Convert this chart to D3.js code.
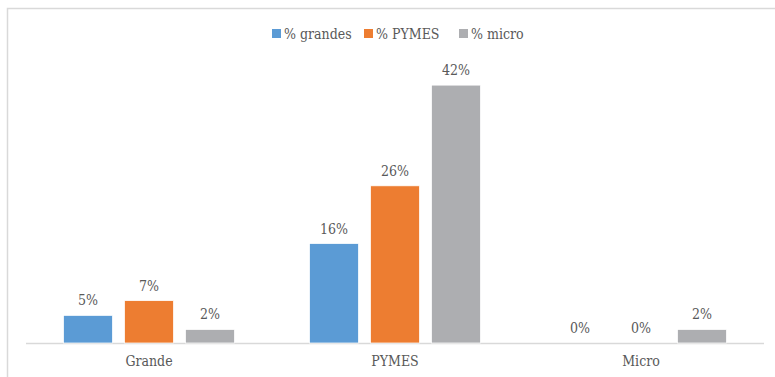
<!DOCTYPE html>
<html>
<head>
<meta charset="utf-8">
<script src="https://cdn.jsdelivr.net/npm/d3@7"></script>
<style>
  body { margin: 0; background: #fff; }
  svg text { fill: #595959; }
</style>
</head>
<body>
<svg id="chart"></svg>
<script>
// categories and series
var categories = ["Grande", "PYMES", "Micro"];
var seriesNames = ["% grandes", "% PYMES", "% micro"];
var grandes = [4.5, 16.2, 0];
var pymes = [6.9, 25.6, 0];
var micro = [2.2, 42, 2.2];
var colors = ["#5B9BD5", "#ED7D31", "#ADAEB1"];

var series = [grandes, pymes, micro];

var w = 775;
var h = 377;
var padding = { top: 67, bottom: 343, left: 26, right: 764 };
var font = "'DejaVu Serif Condensed', 'DejaVu Serif', serif";

var svg = d3.select("#chart")
  .attr("width", w)
  .attr("height", h);

// chart border (runs off the right and bottom of the picture)
svg.append("path")
  .attr("d", "M7.5," + (h + 5) + "V8.5H" + (w + 5))
  .attr("fill", "none")
  .attr("stroke", "#D9D9D9")
  .attr("stroke-width", 1.5);

var x0 = d3.scaleBand()
  .domain(categories)
  .range([padding.left, padding.right]);

var x1 = d3.scaleBand()
  .domain(d3.range(series.length))
  .range([37.5, 208.5])
  .paddingInner(12 / 61);

var yScale = d3.scaleLinear()
  .domain([0, 45])
  .range([padding.bottom, padding.bottom - 45 * 6.14]);

// axis line
svg.append("line")
  .attr("x1", padding.left)
  .attr("x2", padding.right)
  .attr("y1", padding.bottom + 0.5)
  .attr("y2", padding.bottom + 0.5)
  .attr("stroke", "#D9D9D9")
  .attr("stroke-width", 1.5);

var groups = svg.selectAll("g.cat")
  .data(categories)
  .enter()
  .append("g")
  .attr("class", "cat")
  .attr("transform", function(d) {
    return "translate(" + x0(d) + ",0)";
  });

groups.each(function(cat, ci) {
  var g = d3.select(this);
  series.forEach(function(s, si) {
    var v = s[ci];
    if (v > 0) {
      g.append("rect")
        .attr("x", x1(si))
        .attr("y", yScale(v))
        .attr("width", x1.bandwidth())
        .attr("height", yScale(0) - yScale(v))
        .attr("fill", colors[si])
        .attr("stroke", "#fff")
        .attr("stroke-width", 0.75);
    }
    g.append("text")
      .text(Math.round(v) + "%")
      .attr("x", x1(si) + x1.bandwidth() / 2)
      .attr("y", yScale(v) - 10)
      .attr("text-anchor", "middle")
      .attr("font-family", font)
      .attr("font-stretch", "condensed")
      .attr("font-size", "14px");
  });
});

// category labels
svg.selectAll("text.catlabel")
  .data(categories)
  .enter()
  .append("text")
  .attr("class", "catlabel")
  .text(function(d) { return d; })
  .attr("x", function(d) { return x0(d) + x0.bandwidth() / 2; })
  .attr("y", 366)
  .attr("text-anchor", "middle")
  .attr("font-family", font)
  .attr("font-stretch", "condensed")
  .attr("font-size", "14px");

// legend
var legendX = [272, 364, 459];
seriesNames.forEach(function(name, i) {
  svg.append("rect")
    .attr("x", legendX[i])
    .attr("y", 29)
    .attr("width", 9)
    .attr("height", 9)
    .attr("fill", colors[i]);
  svg.append("text")
    .text(name)
    .attr("x", legendX[i] + 12)
    .attr("y", 39)
    .attr("font-family", font)
    .attr("font-stretch", "condensed")
    .attr("font-size", "14px");
});
</script>
</body>
</html>
